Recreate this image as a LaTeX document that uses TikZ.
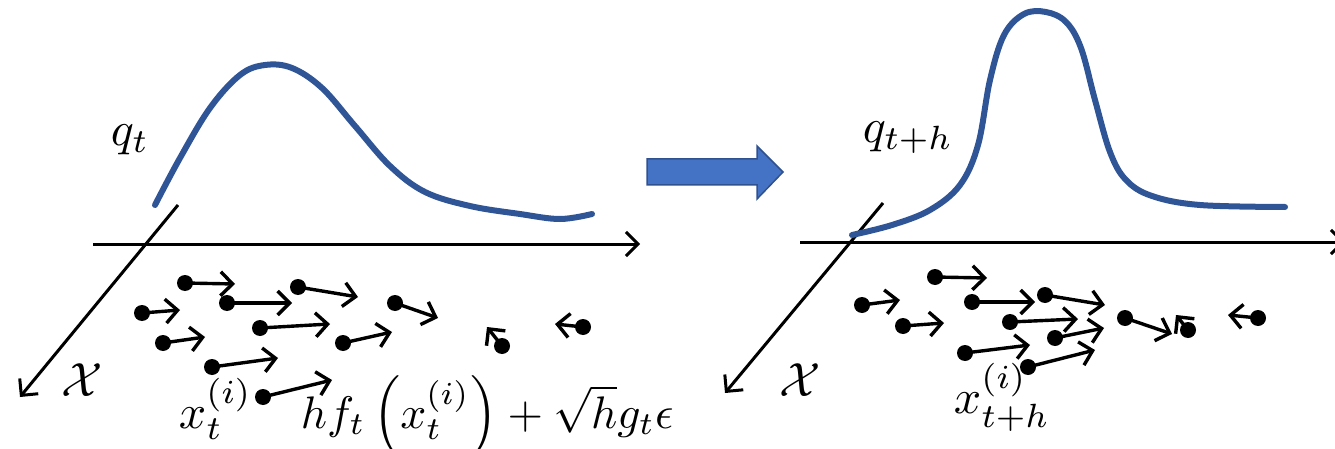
\documentclass[tikz,border=0pt]{standalone}
\usetikzlibrary{arrows.meta}
\definecolor{curveblue}{HTML}{2F5597}
\definecolor{fillblue}{HTML}{4472C4}
\definecolor{edgeblue}{HTML}{2F528F}
\begin{document}
\begin{tikzpicture}[x=1pt,y=-1pt,
  axis/.style={line width=3pt,-{Straight Barb[length=12pt,width=24pt,line width=3pt]}},
  density/.style={line width=6pt,curveblue,line cap=round},
  particle/.style={circle,fill=black,inner sep=0pt,minimum size=16pt},
  move/.style={line width=3.4pt,-{Straight Barb[length=12pt,width=24pt,line width=3.4pt]},shorten <=-2pt},
  lbl/.style={inner sep=0pt,scale=4.8}]
\useasboundingbox (0,0) rectangle (1335,449);

% ---------- left panel ----------
\coordinate (la0) at (93,244); \coordinate (la1) at (640,244);
\coordinate (ld0) at (178,205); \coordinate (ld1) at (20,397);
\draw[axis] (la0) -- (la1);
\draw[axis] (ld0) -- (ld1);
\draw[density] plot[smooth,tension=0.6] coordinates{(155,205) (180,158) (210,108) (240,75) (265,65) (292,68) (322,88) (355,126) (390,166) (425,192) (470,206) (520,214) (560,219) (592,214)};
\node[lbl] (qt) at (130,140) {$q_t$};
\node[lbl] (Xl) at (82,380) {$\mathcal{X}$};

\foreach \n/\x/\y/\ex/\ey in {1/185/283/235/284, 2/227/303/292/303, 3/298/287/358/297, 4/142/313/180/310,
  5/260/328/330/324, 6/395/303/438/318, 7/163/343/205/337, 8/343/343/392/332, 9/212/367/278/358,
  10/502/346/487/327, 11/583/327/555/324, 12/263/397/332/380}{
  \node[particle] (lp\n) at (\x,\y) {};
  \coordinate (lt\n) at (\ex,\ey);
  \draw[move] (lp\n.center) -- (lt\n);
}
\node[lbl,anchor=base west] (xti) at (178,428) {$x_t^{(i)}$};
\node[lbl,anchor=base west,scale=0.95] (upd) at (300,428) {$hf_t\left(x_t^{(i)}\right)+\sqrt{h}g_t\epsilon$};

% ---------- block arrow ----------
\draw[edgeblue,fill=fillblue,line width=1.5pt,line join=miter]
  (647,159) -- (757,159) -- (757,146) -- (783,172) -- (757,199) -- (757,185) -- (647,185) -- cycle;

% ---------- right panel ----------
\coordinate (ra0) at (800,242); \coordinate (ra1) at (1345,242);
\coordinate (rd0) at (883,203); \coordinate (rd1) at (725,393);
\draw[axis] (ra0) -- (ra1);
\draw[axis] (rd0) -- (rd1);
\draw[density] plot[smooth,tension=0.6] coordinates{(852,235) (892,225) (930,210) (960,185) (978,145) (990,80) (1004,35) (1024,14) (1046,12) (1066,22) (1081,48) (1095,100) (1110,152) (1126,180) (1152,196) (1200,205) (1285,207)};
\node[lbl] (qth) at (908,138) {$q_{t+h}$};
\node[lbl] (Xr) at (800,380) {$\mathcal{X}$};

\foreach \n/\x/\y/\ex/\ey in {1/935/277/987/278, 2/862/305/900/300, 3/972/302/1035/302, 4/1045/295/1105/305,
  5/903/326/944/323, 6/1010/322/1078/319, 7/1055/338/1104/328, 8/1125/318/1172/334,
  9/1188/330/1176/315, 10/1258/318/1228/315, 11/965/353/1030/345, 12/1028/367/1095/350}{
  \node[particle] (rp\n) at (\x,\y) {};
  \coordinate (rt\n) at (\ex,\ey);
  \draw[move] (rp\n.center) -- (rt\n);
}
\node[lbl,anchor=base west] (xthi) at (953,413) {$x_{t+h}^{(i)}$};
\end{tikzpicture}
\end{document}
